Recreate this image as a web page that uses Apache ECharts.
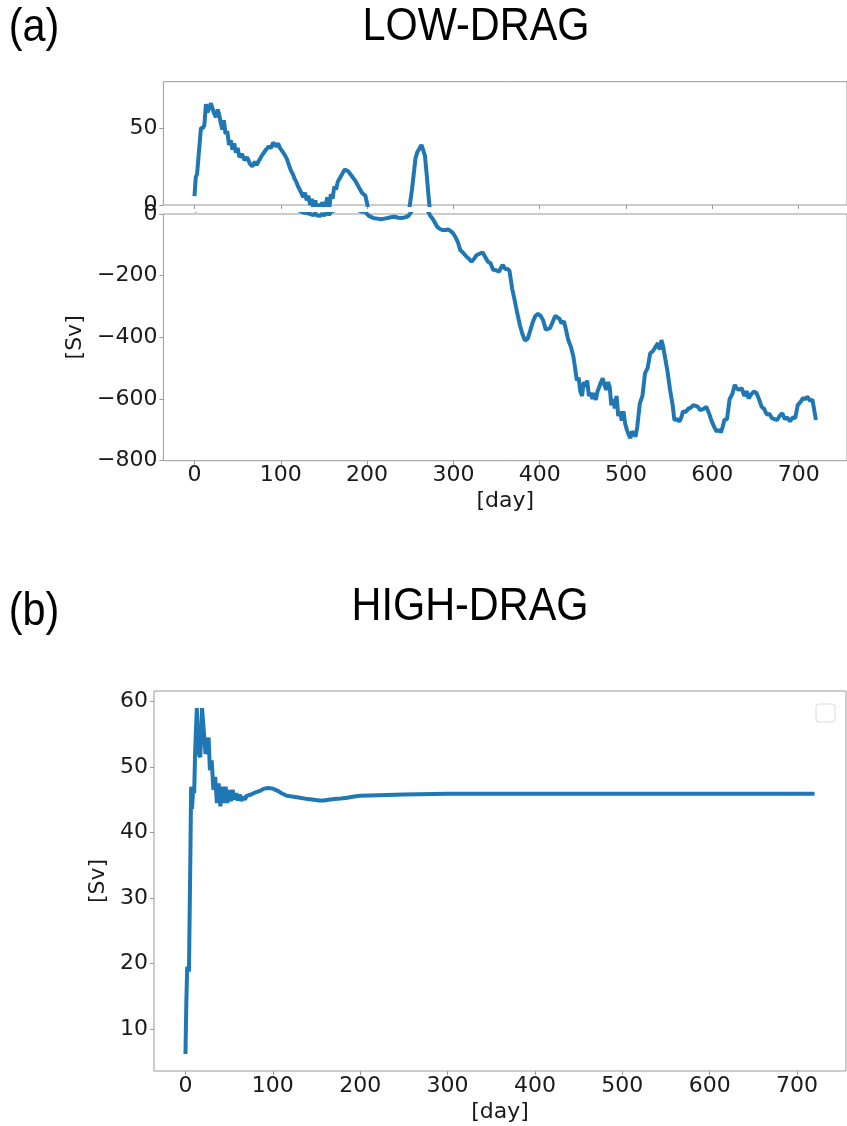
<!DOCTYPE html>
<html>
<head>
<meta charset="utf-8">
<script src="https://cdn.jsdelivr.net/npm/echarts@6/dist/echarts.min.js"></script>
<style>
  html, body { margin: 0; padding: 0; background: #fff; }
  #chart { width: 847px; height: 1126px; }
</style>
</head>
<body>
<div id="chart"></div>
<script>
// (a) LOW-DRAG
const lowDays = [0, 1.5, 3, 5, 7.5, 10, 11.5, 13.3, 15, 17, 19, 21, 23, 25, 27, 28.5, 30.5, 32.3, 34, 36, 38, 40, 42, 44, 46, 48, 50, 52, 55, 58, 61, 64, 67, 70, 72, 75, 78, 80, 83, 86, 89, 91, 93, 95, 97, 99, 101, 104, 107, 110, 112, 114, 116, 118, 120, 122, 124, 126, 128, 130, 132, 134, 136, 138, 140, 142, 144, 146, 148, 150, 152, 154, 156, 158, 160, 162, 164, 166, 168, 170, 172, 174, 176, 178, 180, 182, 184, 186, 188, 190, 192, 194, 196, 198, 200, 202, 205, 208, 212, 216, 220, 224, 228, 232, 236, 240, 244, 248, 250, 252, 254, 256, 258, 260, 263, 265, 267, 269, 271, 273, 275, 278, 281, 284, 287, 291, 294, 296, 299, 302, 305, 308, 311, 315, 318, 321, 324, 327, 331, 334, 337, 340, 343, 346, 349, 353, 355, 357, 360, 363, 365, 368, 371, 374, 377, 380, 383, 386, 389, 392, 395, 398, 401, 404, 407, 409, 412, 415, 418, 420, 423, 425, 428, 430, 433, 436, 439, 441, 443, 445, 447, 449, 451, 453, 455, 457, 459, 461, 463, 465, 467, 469, 471, 473, 475, 477, 479, 481, 483, 485, 487, 489, 491, 493, 495, 497, 499, 501, 503, 505, 507, 509, 511, 513, 516, 519, 522, 525, 528, 531, 533, 535, 537, 539, 541, 543, 545, 548, 551, 554, 556, 559, 562, 564, 566, 569, 572, 575, 578, 580, 583, 586, 590, 593, 596, 599, 602, 605, 608, 610, 612, 614, 617, 620, 623, 626, 628, 631, 634, 637, 640, 642, 645, 648, 651, 654, 657, 660, 663, 666, 669, 672, 675, 678, 681, 684, 687, 690, 693, 696, 699, 702, 705, 708, 710, 713, 716, 720];
const lowFlow = [5.8, 18, 20, 21, 50, 50, 52, 65.5, 60, 59, 66, 66.5, 59, 57, 62, 59, 53, 49, 55, 46, 48, 39, 42, 36, 40, 34, 37, 31, 33, 29, 31, 27, 25, 28, 26, 29, 32, 33, 36, 38, 37, 40.5, 41, 38, 40, 37, 36, 33, 30, 25, 22, 20, 17, 15, 12, 10, 9, 5, 8, 3, 6, 0, 4, -4, 3, -5, 1, -6, 2, -5, 0, 5, -3, 7, 4, 12, 10, 15, 17, 19, 20, 23, 24, 22, 23, 19, 20, 16, 15, 12, 13, 8, 9, 6, 1, -6, -10, -14, -15, -17, -15, -13, -10, -9, -12, -13, -11, -6, 2, 10, 20, 30, 34, 35, 39, 40, 32, 20, 7, -5, -12, -25, -41, -48, -52, -52, -50, -46, -60, -73, -90, -117, -125, -138, -145, -155, -145, -133, -128, -125, -140, -155, -160, -181, -182, -187, -175, -165, -178, -178, -185, -241, -280, -322, -360, -390, -410, -405, -378, -350, -330, -324, -330, -345, -375, -380, -370, -350, -330, -327, -340, -354, -348, -370, -408, -430, -462, -500, -540, -530, -575, -590, -545, -560, -540, -590, -580, -600, -580, -603, -575, -560, -545, -533, -555, -570, -545, -560, -620, -600, -630, -590, -655, -640, -670, -640, -680, -700, -715, -727, -705, -712, -722, -690, -614, -590, -516, -500, -452, -445, -436, -440, -419, -440, -409, -430, -462, -510, -570, -620, -668, -665, -673, -660, -640, -642, -632, -628, -620, -614, -625, -636, -632, -625, -645, -670, -690, -705, -700, -708, -690, -668, -665, -600, -585, -554, -565, -570, -565, -590, -575, -598, -585, -576, -580, -600, -625, -632, -650, -648, -662, -665, -668, -655, -646, -665, -660, -673, -660, -662, -619, -610, -597, -600, -592, -605, -603, -668];

// (b) HIGH-DRAG
const highDays = [0, 1, 2, 3, 4, 5.5, 6.5, 7.5, 9, 10, 11, 13, 15, 17, 19, 21, 23, 25, 26.5, 28, 30, 32, 34, 36, 38, 40, 42, 44, 46, 48, 50, 52, 54, 56, 58, 60, 62, 64, 66, 68, 70, 72, 75, 78, 82, 86, 90, 95, 100, 105, 110, 116, 122, 131, 140, 147, 153, 158, 164, 170, 178, 185, 193, 200, 220, 250, 300, 400, 500, 600, 720];
const highFlow = [6.2, 14, 19.5, 19.5, 18.8, 35, 47, 43.6, 47, 46, 52, 59, 52, 51.5, 59, 58.8, 52, 53, 54.5, 49.5, 51, 46.5, 48.5, 44.5, 47.5, 44, 47, 44.5, 47, 44.5, 46.5, 44.8, 46.5, 45, 46, 44.9, 45.8, 44.8, 45.5, 45, 45.6, 45.3, 45.8, 46, 46.2, 46.4, 46.7, 46.8, 46.7, 46.4, 46.0, 45.6, 45.5, 45.3, 45.1, 45.0, 44.9, 44.9, 45.0, 45.1, 45.2, 45.3, 45.5, 45.6, 45.7, 45.8, 45.9, 45.9, 45.9, 45.9, 45.9];

const dayTicks = [0, 100, 200, 300, 400, 500, 600, 700];
const topTicks = [0, 50];
const highTicks = [10, 20, 30, 40, 50, 60];

const lowData = lowDays.map((d, i) => [d, lowFlow[i]]);
const highData = highDays.map((d, i) => [d, highFlow[i]]);

const spine = '#9a9a9a';
const ink = '#1a1a1a';
const blue = '#1f77b4';
const tickFont = { fontFamily: 'DejaVu Sans', fontSize: 22, color: ink };
const nameFont = { fontFamily: 'DejaVu Sans', fontSize: 22, color: ink };
const titleFont = '46px "Liberation Sans", Arial, sans-serif';

function xAx(idx, labels) {
  return {
    type: 'value', gridIndex: idx, min: -36, max: 756,
    axisLine: { show: false, onZero: false },
    axisTick: { show: true, length: 4, lineStyle: { color: spine }, customValues: dayTicks },
    axisLabel: Object.assign({ show: labels, margin: 4, customValues: dayTicks }, tickFont),
    splitLine: { show: false },
    name: labels ? '[day]' : '', nameLocation: 'middle', nameGap: 30,
    nameTextStyle: nameFont
  };
}

function yAx(idx, lo, hi, ticks, gap) {
  const ax = {
    type: 'value', gridIndex: idx, min: lo, max: hi,
    axisLine: { show: false, onZero: false }, splitLine: { show: false },
    axisTick: { show: true, length: 4, lineStyle: { color: spine }, customValues: ticks },
    axisLabel: Object.assign({ margin: 6, customValues: ticks, formatter: v => String(v).replace('-', '\u2212') }, tickFont)
  };
  if (gap) {
    ax.name = '[Sv]';
    ax.nameLocation = 'middle';
    ax.nameGap = gap;
    ax.nameRotate = 90;
    ax.nameTextStyle = nameFont;
  }
  return ax;
}

const line = { type: 'line', showSymbol: false, clip: true, lineStyle: { width: 4, color: blue }, itemStyle: { color: blue }, animation: false };

const option = {
  backgroundColor: '#fff',
  animation: false,
  grid: [
    { left: 163.4, top: 81.7, width: 695, height: 123.3, show: true, borderColor: spine, borderWidth: 1 },
    { left: 163.4, top: 214, width: 695, height: 246.7, show: true, borderColor: spine, borderWidth: 1 },
    { left: 154, top: 691, width: 692, height: 380, show: true, borderColor: spine, borderWidth: 1 }
  ],
  xAxis: [xAx(0, false), xAx(1, true), xAx(2, true)],
  yAxis: [
    yAx(0, 0, 80, topTicks, 0),
    yAx(1, -800, 0, [-800, -600, -400, -200, 0], 63),
    yAx(2, 3.6, 61.6, highTicks, 30)
  ],
  series: [
    Object.assign({ xAxisIndex: 0, yAxisIndex: 0, data: lowData }, line),
    Object.assign({ xAxisIndex: 1, yAxisIndex: 1, data: lowData }, line),
    Object.assign({ xAxisIndex: 2, yAxisIndex: 2, data: highData }, line)
  ],
  graphic: [
    { type: 'text', x: 34, y: 28, scaleX: 0.9, style: { text: '(a)', font: titleFont, fill: '#000', align: 'center', verticalAlign: 'middle' } },
    { type: 'text', x: 476, y: 27, scaleX: 0.9, style: { text: 'LOW-DRAG', font: titleFont, fill: '#000', align: 'center', verticalAlign: 'middle' } },
    { type: 'text', x: 34, y: 612, scaleX: 0.9, style: { text: '(b)', font: titleFont, fill: '#000', align: 'center', verticalAlign: 'middle' } },
    { type: 'text', x: 470, y: 607, scaleX: 0.9, style: { text: 'HIGH-DRAG', font: titleFont, fill: '#000', align: 'center', verticalAlign: 'middle' } },
    // empty legend frame, as in the source figure
    { type: 'rect', shape: { x: 816, y: 704, width: 19, height: 18, r: 3 }, style: { fill: '#fff', stroke: '#dcdcdc', lineWidth: 1 } }
  ]
};

const E = echarts.init(document.getElementById('chart'));
E.setOption(option);
</script>
</body>
</html>
